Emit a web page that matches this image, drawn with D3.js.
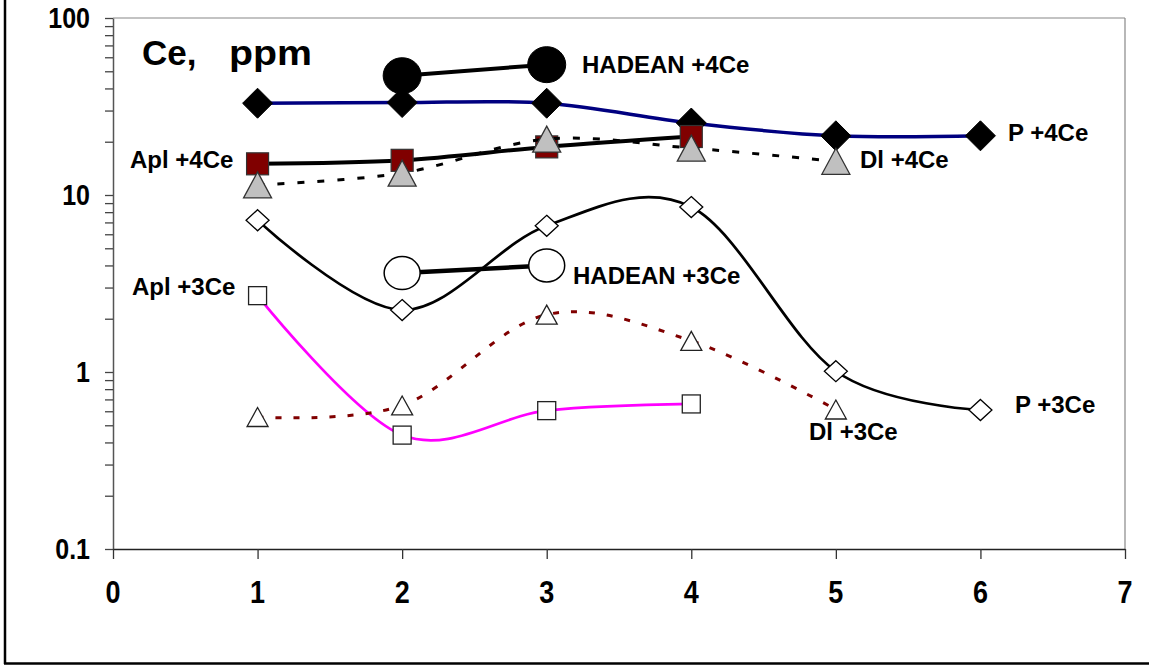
<!DOCTYPE html>
<html>
<head>
<meta charset="utf-8">
<script src="https://cdn.jsdelivr.net/npm/d3@7"></script>
<style>
  html, body { margin: 0; padding: 0; background: #fff; }
  svg { display: block; font-family: "Liberation Sans", Arial, sans-serif; }
</style>
</head>
<body>
<svg id="chart" width="1149" height="666"></svg>
<script>
// ---- data ----
const xTicks = [0, 1, 2, 3, 4, 5, 6, 7];
const yMajorTicks = [0.1, 1, 10, 100];
const yTickLabels = ["0.1", "1", "10", "100"];

const p4X = [1, 2, 3, 4, 5, 6];
const p4Y = [33, 33.3, 33, 25.5, 21.6, 21.6];

const hadean4X = [2, 3];
const hadean4Y = [47.2, 54.5];

const apl4X = [1, 2, 3, 4];
const apl4Y = [15.0, 15.7, 18.7, 21.4];

const dl4X = [1, 2, 3, 4, 5];
const dl4Y = [11.4, 13.3, 20.7, 18.4, 15.5];

const p3X = [1, 2, 3, 4, 5, 6];
const p3Y = [7.2, 2.24, 6.7, 8.55, 1.01, 0.61];

const hadean3X = [2, 3];
const hadean3Y = [3.62, 4.0];

const apl3X = [1, 2, 3, 4];
const apl3Y = [2.7, 0.44, 0.605, 0.66];

const dl3X = [1, 2, 3, 4, 5];
const dl3Y = [0.557, 0.647, 2.11, 1.50, 0.614];

const seriesLabels = [
  {text: "HADEAN +4Ce", x: 582, y: 73},
  {text: "P +4Ce", x: 1008, y: 141},
  {text: "Apl +4Ce", x: 130, y: 168},
  {text: "Dl +4Ce", x: 860, y: 168},
  {text: "HADEAN +3Ce", x: 573, y: 284},
  {text: "Apl +3Ce", x: 132, y: 295},
  {text: "P +3Ce", x: 1015, y: 413},
  {text: "Dl +3Ce", x: 809, y: 440}
];

// ---- chart ----
const svg = d3.select("#chart");
const x = d3.scaleLinear().domain([0, 7]).range([113, 1125]);
const y = d3.scaleLog().domain([0.1, 100]).range([549, 18]);

// outer frame (left & bottom visible)
svg.append("line").attr("x1", 5).attr("x2", 5).attr("y1", 0).attr("y2", 664)
  .attr("stroke", "#000").attr("stroke-width", 2.5);
svg.append("line").attr("x1", 4).attr("x2", 1149).attr("y1", 663.5).attr("y2", 663.5)
  .attr("stroke", "#000").attr("stroke-width", 2.5);

// plot border top/right
svg.append("line").attr("x1", x(0)).attr("x2", x(7)).attr("y1", y(100)).attr("y2", y(100))
  .attr("stroke", "#888").attr("stroke-width", 1.2);
svg.append("line").attr("x1", x(7)).attr("x2", x(7)).attr("y1", y(100)).attr("y2", y(0.1))
  .attr("stroke", "#888").attr("stroke-width", 1.2);

// y axis
const yAll = [];
[0.1, 1, 10].forEach(d => { for (let k = 1; k <= 9; k++) yAll.push(+(d * k).toPrecision(3)); });
yAll.push(100);
const yAxis = d3.axisLeft(y).tickValues(yAll).tickSize(8).tickSizeOuter(0).tickPadding(15)
  .tickFormat(d => { const i = yMajorTicks.indexOf(d); return i >= 0 ? yTickLabels[i] : ""; });
const gy = svg.append("g").attr("transform", `translate(${x(0)},0)`).call(yAxis);
gy.select(".domain").attr("stroke", "#555").attr("stroke-width", 1.5);
gy.selectAll(".tick line").attr("stroke", "#444").attr("stroke-width", 1.3);
gy.selectAll(".tick text").attr("font-size", 25).attr("font-weight", "bold")
  .attr("fill", "#000").attr("font-family", "Liberation Sans, Arial, sans-serif")
  .attr("transform", "scale(1,1.18)");

// x axis
const xAxis = d3.axisBottom(x).tickValues(xTicks).tickSize(10).tickSizeOuter(0).tickFormat("");
const gx = svg.append("g").attr("transform", `translate(0,${y(0.1)})`).call(xAxis);
gx.select(".domain").attr("stroke", "#222").attr("stroke-width", 1.5);
gx.selectAll(".tick line").attr("stroke", "#333").attr("stroke-width", 1.3);
svg.append("g").selectAll("text").data(xTicks).join("text")
  .attr("transform", d => `translate(${x(d)},603) scale(1,1.18)`)
  .attr("text-anchor", "middle").attr("font-size", 27).attr("font-weight", "bold")
  .text(d => d);

// title
const t = svg.append("text").attr("y", 65).attr("font-size", 35).attr("font-weight", "bold");
t.append("tspan").attr("x", 142).text("Ce,");
t.append("tspan").attr("x", 229).attr("textLength", 83).attr("lengthAdjust", "spacingAndGlyphs").text("ppm");

// ---- series ----
const curve = d3.curveCardinal.tension(0);
function drawSeries(xs, ys, o) {
  const pts = xs.map((d, i) => [x(d), y(ys[i])]);
  const line = d3.line().curve(o.straight ? d3.curveLinear : curve);
  svg.append("path").attr("d", line(pts)).attr("fill", "none")
    .attr("stroke", o.color).attr("stroke-width", o.width)
    .attr("stroke-dasharray", o.dash || null);
  const g = svg.append("g");
  pts.forEach(p => {
    let sh;
    const m = o.marker;
    if (m.type === "diamond") {
      sh = g.append("path").attr("d", `M${p[0]},${p[1]-m.h}L${p[0]+m.w},${p[1]}L${p[0]},${p[1]+m.h}L${p[0]-m.w},${p[1]}Z`);
    } else if (m.type === "square") {
      sh = g.append("rect").attr("x", p[0]-m.s/2).attr("y", p[1]-m.s/2).attr("width", m.s).attr("height", m.s);
    } else if (m.type === "triangle") {
      sh = g.append("path").attr("d", `M${p[0]},${p[1]-m.h/2}L${p[0]+m.w/2},${p[1]+m.h/2}L${p[0]-m.w/2},${p[1]+m.h/2}Z`);
    } else if (m.type === "circle") {
      sh = g.append("ellipse").attr("cx", p[0]).attr("cy", p[1]).attr("rx", m.rx).attr("ry", m.ry);
    }
    sh.attr("fill", m.fill).attr("stroke", m.stroke).attr("stroke-width", m.sw);
  });
}

drawSeries(p4X, p4Y, {color: "#000080", width: 3.5,
  marker: {type: "diamond", w: 15, h: 15, fill: "#000", stroke: "#000", sw: 1}});
drawSeries(hadean4X, hadean4Y, {color: "#000", width: 4, straight: true,
  marker: {type: "circle", rx: 19, ry: 18, fill: "#000", stroke: "#000", sw: 1}});
drawSeries(apl4X, apl4Y, {color: "#000", width: 4,
  marker: {type: "square", s: 22, fill: "#800000", stroke: "#333", sw: 1.2}});
drawSeries(dl4X, dl4Y, {color: "#000", width: 3, dash: "7,13",
  marker: {type: "triangle", w: 28, h: 26, fill: "#C0C0C0", stroke: "#333", sw: 1.3}});
drawSeries(p3X, p3Y, {color: "#000", width: 2.7,
  marker: {type: "diamond", w: 11.5, h: 10.5, fill: "#fff", stroke: "#000", sw: 1.3}});
drawSeries(hadean3X, hadean3Y, {color: "#000", width: 4.5, straight: true,
  marker: {type: "circle", rx: 18, ry: 16.5, fill: "#fff", stroke: "#000", sw: 1.5}});
drawSeries(apl3X, apl3Y, {color: "#FF00FF", width: 2.7,
  marker: {type: "square", s: 18, fill: "#fff", stroke: "#222", sw: 1.3}});
drawSeries(dl3X, dl3Y, {color: "#800000", width: 3, dash: "6,12",
  marker: {type: "triangle", w: 21, h: 19, fill: "#fff", stroke: "#222", sw: 1.3}});

// labels
svg.append("g").selectAll("text").data(seriesLabels).join("text")
  .attr("x", d => d.x).attr("y", d => d.y)
  .attr("font-size", 24).attr("font-weight", "bold").attr("fill", "#000")
  .text(d => d.text);
</script>
</body>
</html>
